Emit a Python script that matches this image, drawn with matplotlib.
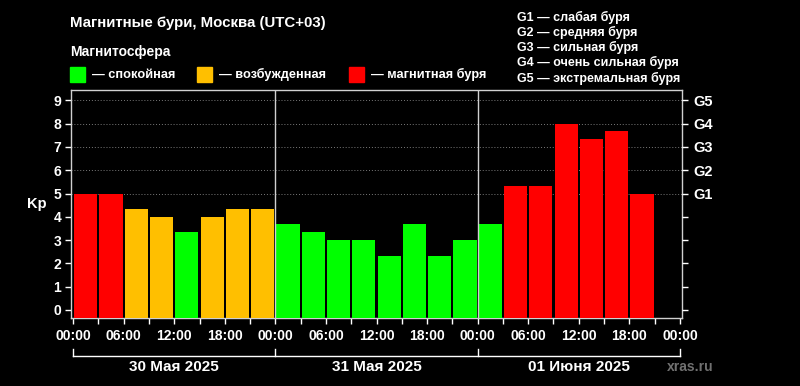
import matplotlib.pyplot as plt
import matplotlib.transforms as mtransforms
import numpy as np

# Kp index, 3-hour slots starting 00:00 on 30 May 2025
kp_values = [
    5.0, 5.0, 4.33, 4.0, 3.33, 4.0, 4.33, 4.33,
    3.67, 3.33, 3.0, 3.0, 2.33, 3.67, 2.33, 3.0,
    3.67, 5.33, 5.33, 8.0, 7.33, 7.67, 5.0,
]
day_labels = ["30 Мая 2025", "31 Мая 2025", "01 Июня 2025"]
hour_labels = ["00:00", "06:00", "12:00", "18:00"]
storm_labels = ["G1", "G2", "G3", "G4", "G5"]
storm_texts = ["слабая буря", "средняя буря", "сильная буря",
               "очень сильная буря", "экстремальная буря"]
state_names = ["спокойная", "возбужденная", "магнитная буря"]

GREEN = "#00ff00"
ORANGE = "#ffbf00"
RED = "#ff0000"
STATE_COLORS = [GREEN, ORANGE, RED]

FONT = ["Liberation Sans", "DejaVu Sans"]
plt.rcParams["font.family"] = FONT

W, H = 800, 386
Y_MIN, Y_MAX = -0.35, 9.45


def kp_color(v):
    if v < 4:
        return GREEN
    if v < 5:
        return ORANGE
    return RED


def main():
    fig = plt.figure(figsize=(W / 100, H / 100), dpi=100, facecolor="black")
    ax = fig.add_axes([71 / W, 1 - 318 / H, (682 - 71) / W, (318 - 90) / H])
    ax.set_facecolor("black")

    x = np.arange(len(kp_values)) * 3 + 1.5
    heights = np.array(kp_values) - Y_MIN
    ax.bar(x, heights, bottom=Y_MIN, width=2.75,
           color=[kp_color(v) for v in kp_values], zorder=3)

    ax.set_xlim(-0.25, 72.25)
    ax.set_ylim(Y_MIN, Y_MAX)

    for g in range(5, 10):
        ax.axhline(g, color="#7a7a7a", lw=0.7, ls=(0, (1, 2)), zorder=1)
    for d in (24, 48):
        ax.axvline(d, color="#d0d0d0", lw=1.0, zorder=4)

    for s in ax.spines.values():
        s.set_color("#d0d0d0")
        s.set_linewidth(1.0)

    ax.set_xticks(np.arange(0, 73, 6))
    ax.set_xticks(np.arange(0, 73, 3), minor=True)
    ax.set_xticklabels(hour_labels * 3 + ["00:00"], fontweight="bold",
                       fontsize=10, color="white")
    ax.tick_params(axis="x", which="both", colors="white", length=4,
                   width=1, pad=4)

    ax.set_yticks(range(10))
    ax.set_yticklabels([str(i) for i in range(10)], fontweight="bold",
                       fontsize=10, color="white")
    ax.tick_params(axis="y", colors="white", length=4, width=1, pad=3)
    ax.set_ylabel("Kp", color="white", fontweight="bold", fontsize=10.5,
                  rotation=0, labelpad=12, va="center")

    ax2 = ax.twinx()
    ax2.set_ylim(Y_MIN, Y_MAX)
    ax2.set_yticks(range(10))
    ax2.set_yticklabels([""] * 5 + storm_labels, fontweight="bold",
                        fontsize=10.5, color="white")
    ax2.tick_params(axis="y", colors="white", length=4, width=1, pad=4)
    for s in ax2.spines.values():
        s.set_visible(False)

    # day bracket under the time axis
    tr = mtransforms.blended_transform_factory(ax.transData, fig.transFigure)
    y_line = 1 - 356 / H
    y_tick = 1 - 349 / H
    ax.plot([0, 72], [y_line, y_line], color="white", lw=1.0,
            transform=tr, clip_on=False)
    for d in (0, 24, 48, 72):
        ax.plot([d, d], [y_line, y_tick], color="white", lw=1.0,
                transform=tr, clip_on=False)
    for i, lab in enumerate(day_labels):
        ax.text(i * 24 + 12, 1 - 367 / H, lab, transform=tr, ha="center",
                va="center", color="white", fontweight="bold", fontsize=11)
    fig.text(690 / W, 1 - 367 / H, "xras.ru", ha="center", va="center",
             color="#707070", fontweight="bold", fontsize=10)

    # header
    fig.text(70 / W, 1 - 23 / H, "Магнитные бури, Москва (UTC+03)",
             color="white", fontweight="bold", fontsize=10.8, va="center")
    fig.text(70 / W, 1 - 52 / H, "Магнитосфера", color="white",
             fontweight="bold", fontsize=10, va="center")
    for sx, col, name in zip((70, 197, 349), STATE_COLORS, state_names):
        fig.patches.append(plt.Rectangle((sx / W, 1 - 82 / H), 15 / W, 15 / H,
                                         color=col, transform=fig.transFigure))
        fig.text((sx + 22) / W, 1 - 74.5 / H, "— " + name, color="white",
                 fontweight="bold", fontsize=9.2, va="center")

    for i, (g, t) in enumerate(zip(storm_labels, storm_texts)):
        fig.text(517 / W, 1 - (17 + 15.3 * i) / H, f"{g} — {t}",
                 color="white", fontweight="bold", fontsize=9, va="center")

    fig.savefig("out.png", dpi=100, facecolor="black")
    plt.close(fig)


if __name__ == "__main__":
    main()
